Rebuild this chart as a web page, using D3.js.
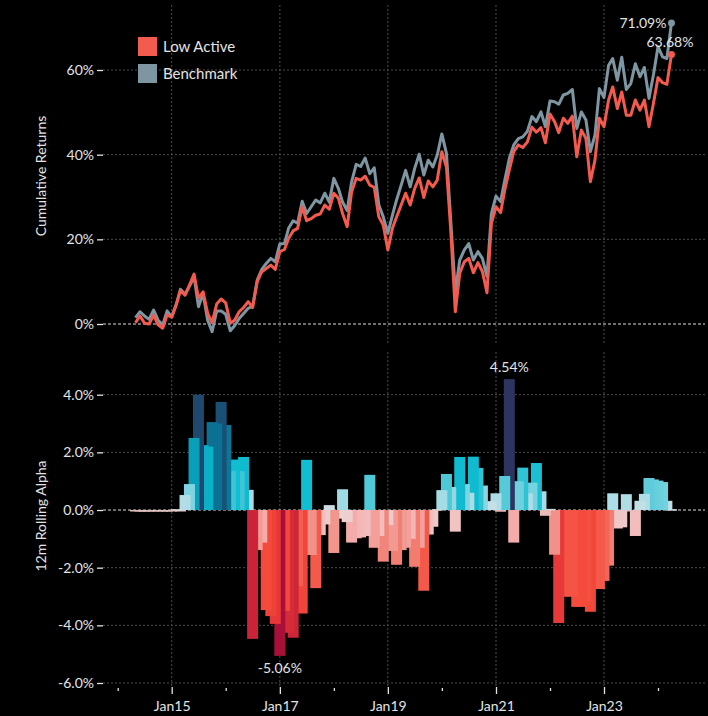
<!DOCTYPE html>
<html>
<head>
<meta charset="utf-8">
<script src="https://cdn.jsdelivr.net/npm/d3@7"></script>
<style>
  html, body { margin: 0; padding: 0; background: #000; }
  svg { display: block; font-family: Lato, "Open Sans", "DejaVu Sans", sans-serif; }
</style>
</head>
<body>
<svg id="chart" width="708" height="716"></svg>
<script>
// ---- data -------------------------------------------------------------
const firstMonth = new Date(2014, 4, 1);   // May 2014
const lastMonth  = new Date(2024, 3, 1);   // Apr 2024

const seriesNames = ["Low Active", "Benchmark"];

// Cumulative returns, % (monthly)
const lowActive = [
  0.3, 1.9, 0.2, 0.0, 2.1, -0.2, -1.0, 2.1, 1.6, 4.5,
  7.9, 6.8, 9.2, 11.8, 6.1, 7.6, 2.5, 0.3, 4.7, 5.9,
  5.0, 0.2, 0.9, 2.9, 3.9, 5.3, 3.9, 10.0, 12.3, 13.1,
  13.9, 12.9, 17.1, 17.6, 20.2, 22.0, 22.6, 27.7, 24.4, 24.9,
  25.7, 26.0, 28.1, 27.1, 30.9, 29.7, 26.1, 23.0, 31.2, 34.4,
  34.0, 34.9, 32.8, 32.3, 25.3, 23.4, 17.5, 22.6, 25.3, 28.1,
  30.9, 28.1, 32.0, 34.5, 29.9, 33.8, 32.4, 34.0, 40.7, 37.1,
  22.2, 2.9, 12.0, 14.7, 15.5, 12.1, 14.5, 12.4, 7.4, 23.8,
  27.7, 26.3, 31.6, 36.4, 40.7, 42.3, 41.7, 43.0, 46.5, 45.3,
  46.4, 42.8, 49.6, 47.8, 45.2, 48.6, 47.4, 49.1, 39.5, 45.8,
  43.8, 33.6, 38.7, 48.6, 46.6, 52.9, 56.0, 50.9, 54.8, 49.3,
  49.3, 52.9, 50.5, 52.9, 46.6, 52.1, 58.2, 57.0, 56.6, 63.68
];

const benchmark = [
  1.5, 2.9, 1.9, 1.1, 3.3, 0.9, -0.2, 3.1, 1.7, 4.7,
  8.2, 7.0, 8.9, 11.2, 4.1, 7.2, 0.9, -1.8, 3.1, 3.1,
  2.3, -1.6, -0.4, 1.3, 2.5, 3.7, 4.2, 10.4, 12.9, 14.3,
  15.5, 14.7, 18.9, 19.0, 22.6, 24.4, 23.8, 29.0, 26.1, 27.7,
  29.3, 28.6, 30.9, 28.8, 34.4, 32.0, 28.8, 26.8, 33.6, 37.7,
  37.2, 39.2, 35.5, 36.9, 28.1, 25.3, 21.4, 25.7, 29.3, 32.8,
  36.3, 32.4, 36.7, 40.1, 35.2, 38.7, 37.1, 39.9, 44.9, 40.3,
  24.5, 7.5, 15.1, 17.5, 19.0, 15.1, 17.1, 15.5, 11.2, 26.1,
  30.2, 28.9, 33.9, 39.1, 42.3, 43.8, 44.2, 45.5, 49.0, 47.8,
  50.1, 46.6, 52.7, 52.5, 51.9, 54.1, 54.5, 55.4, 46.2, 50.1,
  48.2, 40.7, 44.6, 55.6, 53.5, 61.1, 62.7, 57.6, 63.0, 55.4,
  56.8, 61.5, 58.4, 60.6, 53.3, 58.8, 65.5, 63.1, 62.7, 71.09
];

// 12-month rolling alpha, % (monthly)
const rollingAlpha = [
  -0.05, -0.04, -0.06, -0.03, -0.05, -0.04, -0.03, -0.05, -0.03, 0.03,
  -0.02, 0.52, 0.9, 2.5, 4.0, 2.25, 2.2, 3.05, 3.0, 3.75,
  2.95, 1.35, 1.75, 1.35, 1.84, 0.7, -4.47, -1.39, -1.13, -3.47,
  -3.68, -3.95, -5.06, -3.5, -4.26, -4.43, -2.64, -3.59, 1.74, -1.56,
  -2.71, -0.87, -0.5, 0.17, -1.49, -0.3, 0.72, -0.42, -1.13, -0.98,
  -0.95, -0.9, 1.22, -1.31, -0.9, -1.79, -0.52, -1.42, -1.9, -1.39,
  -1.31, -1.0, -1.97, -1.31, -2.8, -0.85, -0.58, 0.03, 0.69, 1.25,
  0.8, -0.75, 1.84, 0.9, 0.6, 1.85, 1.46, 0.85, 0.3, 0.3,
  0.58, -0.06, 1.18, 4.54, -1.13, 1.0, 1.47, 0.58, 0.95, 1.63,
  0.65, -0.2, 0.04, -1.55, -3.92, -3.0, -3.0, -3.0, -3.36, -3.36,
  -3.2, -3.53, -2.74, -2.74, -2.46, -1.93, 0.58, -0.64, -0.6, 0.55,
  -0.05, -0.9, 0.32, 0.56, 1.11, 1.06, 1.02, 0.97, 0.32, 0.03
];

const returnTicks = [0, 20, 40, 60];
const alphaTicks = [-6, -4, -2, 0, 2, 4];
const axisYears = [2014, 2015, 2016, 2017, 2018, 2019, 2020, 2021, 2022, 2023, 2024];
const labelledYears = [2015, 2017, 2019, 2021, 2023];

// ---- setup ------------------------------------------------------------
const months = d3.timeMonth.range(firstMonth, d3.timeMonth.offset(lastMonth, 1));
const lowData = months.map((d, i) => ({ date: d, value: lowActive[i] }));
const benchData = months.map((d, i) => ({ date: d, value: benchmark[i] }));
const alphaData = months.map((d, i) => ({ date: d, value: rollingAlpha[i] }));

const textColor = "#e4e4e4";
const gridColor = "#4d4d4d";
const lowColor = "#f45b4f";
const benchColor = "#7d96a1";
const fontSize = 14;

const plotLeft = 103, plotRight = 705;
const topBand = [5, 345], bottomBand = [352, 686];
const axisY = 687;

const svg = d3.select("#chart");
svg.append("rect").attr("width", 708).attr("height", 716).attr("fill", "#000");

const x = d3.scaleTime()
  .domain([new Date(2014, 0, 1), new Date(2024, 0, 1)])
  .range([117.7, 658]);
const yRet = d3.scaleLinear().domain([0, 60]).range([324, 70]);
const yAlpha = d3.scaleLinear().domain([-6, 4]).range([683, 394.7]);

const alphaColor = d3.scaleLinear()
  .domain([-5.06, -4.45, -3.95, -3.5, -2.7, -2.0, -1.5, -1.2, -0.9, -0.3, -0.1, 0,
           0.3, 0.7, 1.0, 1.3, 1.7, 2.3, 2.6, 3.0, 3.8, 4.54])
  .range(["#a8103a", "#cc2539", "#e63838", "#f4483a", "#f45a4b", "#f27a6e", "#f2948c",
          "#f3a7a4", "#f4bdbd", "#ebd3d3", "#e9a39e", "#d9d9d9",
          "#c4dfe5", "#a3dce6", "#6fd0de", "#45c6d6", "#12bfd2", "#0aaec6",
          "#0897b3", "#0a7294", "#1b4e73", "#2d3460"])
  .clamp(true);

// ---- grid -------------------------------------------------------------
const grid = svg.append("g");
labelledYears.forEach(yr => {
  const gx = x(new Date(yr, 0, 1));
  [topBand, bottomBand].forEach(b => {
    grid.append("line")
      .attr("x1", gx).attr("x2", gx).attr("y1", b[0]).attr("y2", b[1])
      .attr("stroke", gridColor).attr("stroke-width", 1).attr("stroke-dasharray", "2,2");
  });
});
returnTicks.forEach(t => {
  grid.append("line")
    .attr("x1", plotLeft).attr("x2", plotRight).attr("y1", yRet(t)).attr("y2", yRet(t))
    .attr("stroke", t === 0 ? "#dcdcdc" : gridColor)
    .attr("stroke-width", 1)
    .attr("stroke-dasharray", t === 0 ? "3,2" : "2,2");
});
alphaTicks.forEach(t => {
  grid.append("line")
    .attr("x1", plotLeft).attr("x2", plotRight).attr("y1", yAlpha(t)).attr("y2", yAlpha(t))
    .attr("stroke", t === 0 ? "#dcdcdc" : gridColor)
    .attr("stroke-width", 1)
    .attr("stroke-dasharray", t === 0 ? "3,2" : "2,2");
});

// ---- axes -------------------------------------------------------------
function styleAxis(g) {
  g.attr("font-family", null).attr("font-size", null);
  g.select(".domain").remove();
  g.selectAll(".tick line").attr("stroke", textColor).attr("stroke-width", 1.3);
  g.selectAll(".tick text").attr("fill", textColor).style("font-size", fontSize + "px");
}

svg.append("g")
  .attr("transform", `translate(${plotLeft},0)`)
  .call(d3.axisLeft(yRet).tickValues(returnTicks).tickFormat(d => d + "%").tickSize(6).tickPadding(3))
  .call(styleAxis);

svg.append("g")
  .attr("transform", `translate(${plotLeft},0)`)
  .call(d3.axisLeft(yAlpha).tickValues(alphaTicks).tickFormat(d => d.toFixed(1) + "%").tickSize(6).tickPadding(3))
  .call(styleAxis);

svg.append("g")
  .attr("transform", `translate(0,${axisY})`)
  .call(d3.axisBottom(x)
    .tickValues(axisYears.map(y => new Date(y, 0, 1)))
    .tickFormat(d => labelledYears.includes(d.getFullYear()) ? "Jan" + String(d.getFullYear()).slice(2) : "")
    .tickSize(7).tickPadding(7))
  .call(styleAxis)
  .call(g => g.selectAll(".tick line")
    .filter(d => !labelledYears.includes(d.getFullYear()))
    .attr("y1", 1).attr("y2", 4));

// axis titles
svg.append("text")
  .attr("transform", "translate(41,176) rotate(-90)")
  .attr("text-anchor", "middle").attr("dy", "0.35em")
  .attr("fill", textColor).style("font-size", fontSize + "px")
  .text("Cumulative Returns");
svg.append("text")
  .attr("transform", "translate(41,516) rotate(-90)")
  .attr("text-anchor", "middle").attr("dy", "0.35em")
  .attr("fill", textColor).style("font-size", fontSize + "px")
  .text("12m Rolling Alpha");

// ---- rolling alpha bars (earlier months sit on top) ---------------------
const barWidth = 11;
svg.append("g")
  .selectAll("rect")
  .data(alphaData.slice().reverse())
  .join("rect")
  .attr("x", d => x(d.date) - barWidth / 2)
  .attr("width", barWidth)
  .attr("y", d => Math.min(yAlpha(d.value), yAlpha(0)))
  .attr("height", d => Math.max(1.5, Math.abs(yAlpha(d.value) - yAlpha(0))))
  .attr("fill", d => alphaColor(d.value));

const maxBar = alphaData.reduce((a, b) => (b.value > a.value ? b : a));
const minBar = alphaData.reduce((a, b) => (b.value < a.value ? b : a));
svg.append("text")
  .attr("x", x(maxBar.date)).attr("y", yAlpha(maxBar.value) - 7)
  .attr("text-anchor", "middle").attr("fill", textColor).style("font-size", fontSize + "px")
  .text(maxBar.value.toFixed(2) + "%");
svg.append("text")
  .attr("x", x(minBar.date)).attr("y", yAlpha(minBar.value) + 17)
  .attr("text-anchor", "middle").attr("fill", textColor).style("font-size", fontSize + "px")
  .text(minBar.value.toFixed(2) + "%");

// ---- cumulative return lines -------------------------------------------
const line = d3.line().x(d => x(d.date)).y(d => yRet(d.value));
svg.append("path").datum(benchData)
  .attr("d", line).attr("fill", "none").attr("stroke", benchColor)
  .attr("stroke-width", 3).attr("stroke-linejoin", "round");
svg.append("path").datum(lowData)
  .attr("d", line).attr("fill", "none").attr("stroke", lowColor)
  .attr("stroke-width", 3).attr("stroke-linejoin", "round");

const benchEnd = benchData[benchData.length - 1];
const lowEnd = lowData[lowData.length - 1];
svg.append("circle").attr("cx", x(benchEnd.date)).attr("cy", yRet(benchEnd.value)).attr("r", 3.5).attr("fill", benchColor);
svg.append("circle").attr("cx", x(lowEnd.date)).attr("cy", yRet(lowEnd.value)).attr("r", 3.5).attr("fill", lowColor);
svg.append("text")
  .attr("x", x(benchEnd.date) - 5).attr("y", yRet(benchEnd.value) + 5)
  .attr("text-anchor", "end").attr("fill", textColor).style("font-size", fontSize + "px")
  .text(benchEnd.value.toFixed(2) + "%");
svg.append("text")
  .attr("x", x(lowEnd.date) + 22).attr("y", yRet(lowEnd.value) - 7)
  .attr("text-anchor", "end").attr("fill", textColor).style("font-size", fontSize + "px")
  .text(lowEnd.value.toFixed(2) + "%");

// ---- legend ------------------------------------------------------------
const legend = svg.append("g").attr("transform", "translate(138,37)");
[lowColor, benchColor].forEach((c, i) => {
  legend.append("rect").attr("x", 0).attr("y", i * 27).attr("width", 19).attr("height", 19).attr("fill", c);
  legend.append("text").attr("x", 25).attr("y", i * 27 + 9.5).attr("dy", "0.35em")
    .attr("fill", textColor).style("font-size", "15px")
    .text(seriesNames[i]);
});
</script>
</body>
</html>
